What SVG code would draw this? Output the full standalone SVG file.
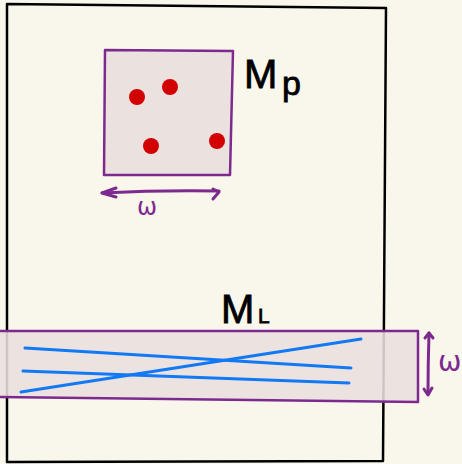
<svg xmlns="http://www.w3.org/2000/svg" width="462" height="464" viewBox="0 0 462 464">
  <defs>
    <style>
      .frame { fill: none; stroke: #000; stroke-width: 2.5; stroke-linejoin: round; }
      .box { fill: #ebe2e0; stroke: #7d2a8f; stroke-width: 2.5; stroke-linejoin: round; }
      .band { fill: #e9e0df; fill-opacity: 0.88; stroke: #7d2a8f; stroke-width: 2.5; stroke-linejoin: round; }
      .dot { fill: #d20000; }
      .ray { stroke: #1279f5; stroke-width: 3; stroke-linecap: round; fill: none; }
      .dim { stroke: #7d2a8f; stroke-width: 3; stroke-linecap: round; stroke-linejoin: round; fill: none; }
      .lbl { font-family: "Liberation Sans", "DejaVu Sans", sans-serif; fill: #000; stroke: #000; stroke-width: 0.8; }
      .wlbl { font-family: "DejaVu Sans", "Liberation Sans", sans-serif; fill: #7d2a8f; }
    </style>
  </defs>
  <rect width="462" height="464" fill="#f9f7ec"/>

  <!-- outer sheet -->
  <g id="sheet">
    <polygon class="frame" points="7,4 386,8 383,461 7,462"/>
  </g>

  <!-- point patch M_p -->
  <g id="patch-p">
    <polygon class="box" points="105,50 233,51 230,175 104,175"/>
    <circle class="dot" cx="137" cy="97" r="8"/>
    <circle class="dot" cx="170" cy="87" r="8"/>
    <circle class="dot" cx="151" cy="146" r="8"/>
    <circle class="dot" cx="217" cy="141" r="8"/>
    <text class="lbl" x="244" y="88" font-size="40">M<tspan x="282" y="95" font-size="34">p</tspan></text>
  </g>

  <!-- line band M_L -->
  <g id="band-l">
    <polygon class="band" points="-3,331 418,331 418,402 -3,397"/>
    <line class="ray" x1="25" y1="348" x2="351" y2="368"/>
    <line class="ray" x1="23" y1="371" x2="349" y2="383"/>
    <line class="ray" x1="21" y1="392" x2="361" y2="339"/>
    <text class="lbl" x="221" y="323" font-size="40">M<tspan x="258" font-size="21">L</tspan></text>
  </g>

  <!-- width dimensions -->
  <g id="dimensions">
    <path class="dim" d="M102,193 Q160,190 219,191"/>
    <path class="dim" d="M116,188 L102,193 L116,197"/>
    <path class="dim" d="M213,189 L219,192 L213,199"/>
    <text class="wlbl" x="137" y="215" font-size="24">ω</text>

    <path class="dim" d="M429,333 Q428,364 428,394"/>
    <path class="dim" d="M425,338 L429,333 L433,338"/>
    <path class="dim" d="M424,389 L428,395 L432,388"/>
    <text class="wlbl" x="438" y="371" font-size="28">ω</text>
  </g>
</svg>
